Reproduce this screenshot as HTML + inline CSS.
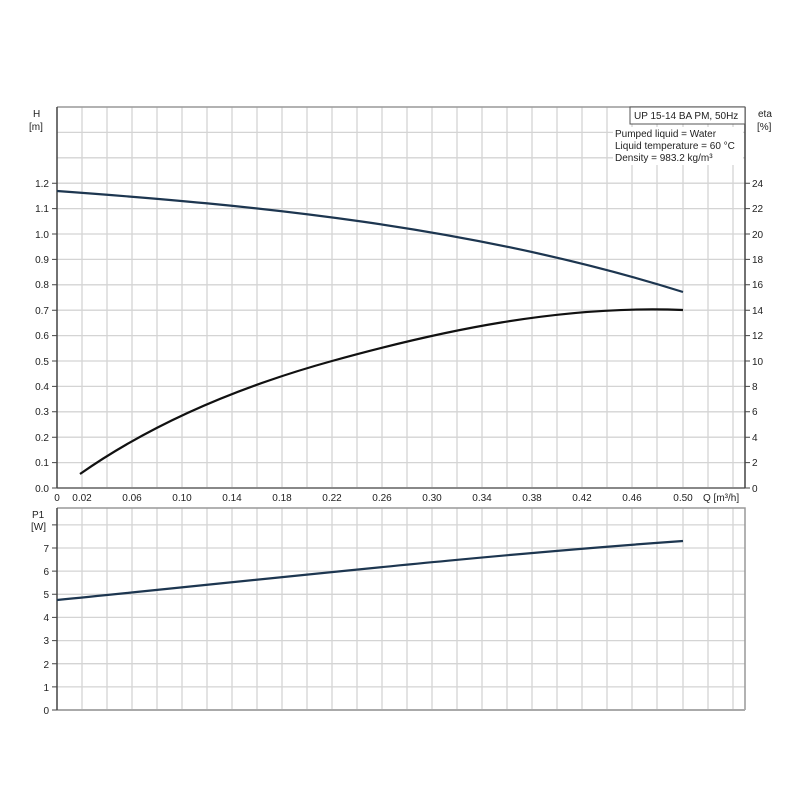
<!DOCTYPE html>
<html><head><meta charset="utf-8"><style>
html,body{margin:0;padding:0;background:#fff;}
svg{display:block;font-family:"Liberation Sans",sans-serif;}
</style></head><body>
<svg width="800" height="800" viewBox="0 0 800 800" xmlns="http://www.w3.org/2000/svg">
<rect width="800" height="800" fill="#fff"/>
<g stroke="#d4d4d4" stroke-width="1.3">
<path d="M82,107V488M107,107V488M132,107V488M157,107V488M182,107V488M207,107V488M232,107V488M257,107V488M282,107V488M307,107V488M332,107V488M357,107V488M382,107V488M407,107V488M432,107V488M457,107V488M482,107V488M507,107V488M532,107V488M557,107V488M582,107V488M607,107V488M632,107V488M657,107V488M683,107V488M708,107V488M733,107V488"/>
<path d="M57,462.6H745M57,437.2H745M57,411.8H745M57,386.4H745M57,361H745M57,335.6H745M57,310.2H745M57,284.8H745M57,259.4H745M57,234H745M57,208.6H745M57,183.2H745M57,157.8H745M57,132.4H745"/>
<path d="M82,508V710M107,508V710M132,508V710M157,508V710M182,508V710M207,508V710M232,508V710M257,508V710M282,508V710M307,508V710M332,508V710M357,508V710M382,508V710M407,508V710M432,508V710M457,508V710M482,508V710M507,508V710M532,508V710M557,508V710M582,508V710M607,508V710M632,508V710M657,508V710M683,508V710M708,508V710M733,508V710"/>
<path d="M57,686.9H745M57,663.7H745M57,640.6H745M57,617.4H745M57,594.3H745M57,571.1H745M57,548H745M57,524.9H745"/>
</g>
<path d="M57,107H745" stroke="#999" stroke-width="1.5"/>
<path d="M57,508H745V710" stroke="#999" stroke-width="1.5" fill="none"/>
<path d="M57,488H745" stroke="#888" stroke-width="2"/>
<path d="M57,710H745" stroke="#aaa" stroke-width="2"/>
<path d="M57,107V488M745,107V488M57,508V710" stroke="#444" stroke-width="1.5"/>
<g stroke="#444" stroke-width="1">
<path d="M52,488H57M52,462.6H57M52,437.2H57M52,411.8H57M52,386.4H57M52,361H57M52,335.6H57M52,310.2H57M52,284.8H57M52,259.4H57M52,234H57M52,208.6H57M52,183.2H57"/>
<path d="M745,488H750M745,462.6H750M745,437.2H750M745,411.8H750M745,386.4H750M745,361H750M745,335.6H750M745,310.2H750M745,284.8H750M745,259.4H750M745,234H750M745,208.6H750M745,183.2H750"/>
<path d="M52,710H57M52,686.9H57M52,663.7H57M52,640.6H57M52,617.4H57M52,594.3H57M52,571.1H57M52,548H57M52,524.9H57"/>
</g>
<g font-size="10" fill="#222">
<text x="33" y="117">H</text><text x="29" y="130">[m]</text>
<text x="758" y="117">eta</text><text x="757" y="130">[%]</text>
<text x="32" y="518">P1</text><text x="31" y="530">[W]</text>
<g text-anchor="end">
<text x="49" y="492">0.0</text><text x="49" y="466">0.1</text><text x="49" y="441">0.2</text><text x="49" y="415">0.3</text><text x="49" y="390">0.4</text><text x="49" y="365">0.5</text><text x="49" y="339">0.6</text><text x="49" y="314">0.7</text><text x="49" y="288">0.8</text><text x="49" y="263">0.9</text><text x="49" y="238">1.0</text><text x="49" y="212">1.1</text><text x="49" y="187">1.2</text>
<text x="49" y="714">0</text><text x="49" y="691">1</text><text x="49" y="668">2</text><text x="49" y="644">3</text><text x="49" y="621">4</text><text x="49" y="598">5</text><text x="49" y="575">6</text><text x="49" y="552">7</text>
</g>
<text x="752" y="492">0</text><text x="752" y="466">2</text><text x="752" y="441">4</text><text x="752" y="415">6</text><text x="752" y="390">8</text><text x="752" y="365">10</text><text x="752" y="339">12</text><text x="752" y="314">14</text><text x="752" y="288">16</text><text x="752" y="263">18</text><text x="752" y="238">20</text><text x="752" y="212">22</text><text x="752" y="187">24</text>
<g text-anchor="middle">
<text x="57" y="501">0</text><text x="82" y="501">0.02</text><text x="132" y="501">0.06</text><text x="182" y="501">0.10</text><text x="232" y="501">0.14</text><text x="282" y="501">0.18</text><text x="332" y="501">0.22</text><text x="382" y="501">0.26</text><text x="432" y="501">0.30</text><text x="482" y="501">0.34</text><text x="532" y="501">0.38</text><text x="582" y="501">0.42</text><text x="632" y="501">0.46</text><text x="683" y="501">0.50</text>
</g>
<text x="703" y="501">Q [m³/h]</text>
</g>
<rect x="630" y="107" width="115" height="17" fill="#fff" stroke="#555" stroke-width="1"/>
<g font-size="10" fill="#222">
<text x="634" y="119">UP 15-14 BA PM, 50Hz</text>
<rect x="613" y="127" width="130" height="38" fill="#fff"/>
<text x="615" y="137">Pumped liquid = Water</text>
<text x="615" y="149">Liquid temperature = 60 °C</text>
<text x="615" y="161">Density = 983.2 kg/m³</text>
</g>
<path d="M57,191 C250,205 470,225 683,292" stroke="#1d3650" stroke-width="2.2" fill="none"/>
<path d="M80,474 C140,432 220,392 332,361 C440,331 560,305 683,310" stroke="#111" stroke-width="2.2" fill="none"/>
<path d="M57,600 C260,580 470,556 683,541" stroke="#1d3650" stroke-width="2.2" fill="none"/>
</svg>
</body></html>
